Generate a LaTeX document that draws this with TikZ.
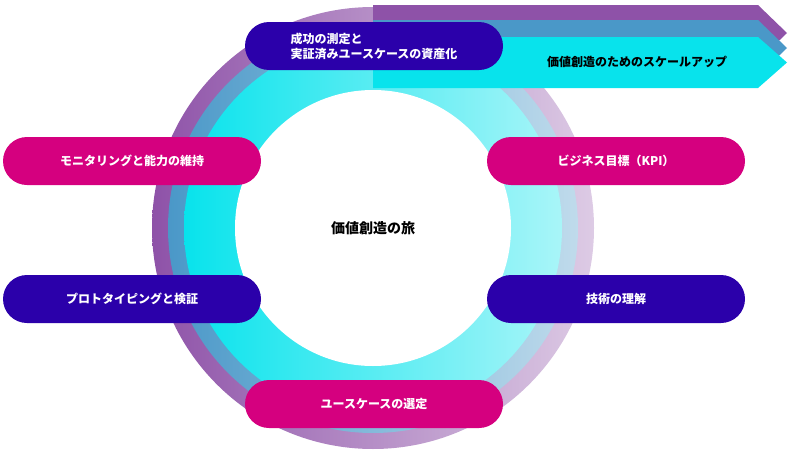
\documentclass[tikz,border=0pt]{standalone}
\usepackage{fontspec}
\setmainfont{Noto Sans CJK JP}
\usepackage{tikz}
\usetikzlibrary{positioning}
\definecolor{ringpurple}{HTML}{8E52A8}
\definecolor{ringblue}{HTML}{4A98C8}
\definecolor{ringcyan}{HTML}{08E3EC}
\definecolor{pillblue}{HTML}{2B00AA}
\definecolor{pillpink}{HTML}{D5007F}

\begin{document}
\begin{tikzpicture}[x=1pt,y=-1pt,font=\fontsize{12}{15}\selectfont\bfseries]

    \tikzstyle{pill}=[rounded corners=24pt, minimum width=258pt, minimum height=48pt, text=white, align=center, inner sep=0pt]
    \tikzstyle{bluepill}=[pill, fill=pillblue]
    \tikzstyle{pinkpill}=[pill, fill=pillpink]

    \useasboundingbox (0,0) rectangle (790,450);
    \coordinate (c) at (373,228);

    % the ring
    \shade[left color=ringpurple, right color=ringpurple!30!white] (c) circle (221pt);
    \shade[left color=ringblue, right color=ringblue!35!white] (c) circle (205pt);
    \shade[left color=ringcyan, right color=ringcyan!35!white] (c) circle (189pt);

    % the bands to the right
    \fill[ringpurple] (373,5) -- (758,5) -- (787,33) -- (758,61) -- (373,61) -- cycle;
    \fill[ringblue] (373,20) -- (758,20) -- (787,48) -- (758,76) -- (373,76) -- cycle;
    \fill[ringcyan] (373,37) -- (758,37) -- (787,62.5) -- (758,88) -- (373,88) -- cycle;
    \fill[white] (c) circle (138pt);

    \node[bluepill, align=left] (measure) at (374,46)  {成功の測定と\\実証済みユースケースの資産化};
    \node                       (scale)   at (637,62)  {価値創造のためのスケールアップ};
    \node[pinkpill]             (monitor) at (132,161) {モニタリングと能力の維持};
    \node[pinkpill]             (kpi)     at (616,161) {ビジネス目標（KPI）};
    \node[bluepill]             (proto)   at (132,299) {プロトタイピングと検証};
    \node[bluepill]             (tech)    at (616,299) {技術の理解};
    \node[pinkpill]             (usecase) at (374,404) {ユースケースの選定};
    \node[font=\fontsize{14}{17}\selectfont\bfseries] (journey) at (c) {価値創造の旅};

\end{tikzpicture}
\end{document}
